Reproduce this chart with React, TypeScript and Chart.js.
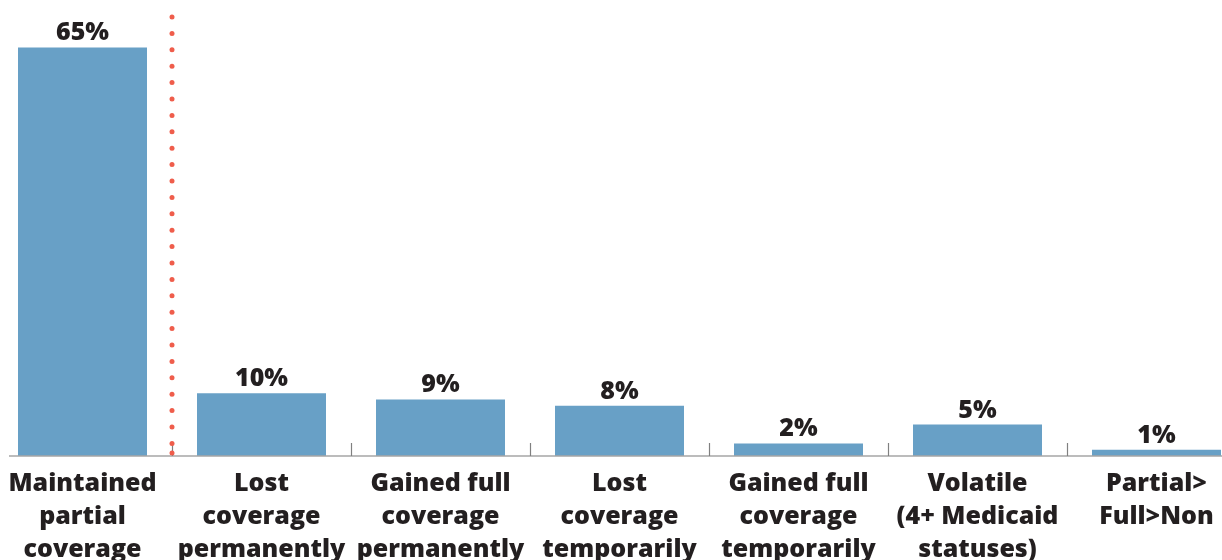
import React, { useEffect, useRef } from "react";
import { Chart, registerables } from "chart.js";

Chart.register(...registerables);

const categories: string[][] = [
  ["Maintained", "partial", "coverage"],
  ["Lost", "coverage", "permanently"],
  ["Gained full", "coverage", "permanently"],
  ["Lost", "coverage", "temporarily"],
  ["Gained full", "coverage", "temporarily"],
  ["Volatile", "(4+ Medicaid", "statuses)"],
  ["Partial>", "Full>Non"],
];
const values: number[] = [65, 10, 9, 8, 2, 5, 1];
const valueLabels: string[] = ["65%", "10%", "9%", "8%", "2%", "5%", "1%"];

const FONT = "'Open Sans', 'Noto Sans', sans-serif";
const TEXT = "#231f20";
const OFFSET_X = 7; // canvas starts 7px left of the page edge

const overlayPlugin = {
  id: "overlay",
  afterDatasetsDraw(chart: any) {
    const ctx = chart.ctx;
    const x = chart.scales.x;
    const area = chart.chartArea;
    const meta = chart.getDatasetMeta(0);
    ctx.save();
    // value labels
    ctx.fillStyle = TEXT;
    ctx.font = `800 25px ${FONT}`;
    ctx.textAlign = "center";
    ctx.textBaseline = "alphabetic";
    meta.data.forEach((bar: any, i: number) => {
      ctx.fillText(valueLabels[i], bar.x, bar.y - 7);
    });
    // axis line
    ctx.strokeStyle = "#a6a6a6";
    ctx.lineWidth = 1.6;
    ctx.beginPath();
    ctx.moveTo(9 + OFFSET_X, area.bottom);
    ctx.lineTo(chart.width, area.bottom);
    ctx.stroke();
    // tick marks between categories (inside)
    ctx.lineWidth = 1.2;
    ctx.strokeStyle = "#808080";
    for (let i = 0; i < values.length - 1; i++) {
      const bx = Math.round((x.getPixelForValue(i) + x.getPixelForValue(i + 1)) / 2) + 0.5;
      ctx.beginPath();
      ctx.moveTo(bx, area.bottom);
      ctx.lineTo(bx, area.bottom - 13);
      ctx.stroke();
    }
    // dotted red separator between first and second category
    const sx = (x.getPixelForValue(0) + x.getPixelForValue(1)) / 2;
    ctx.fillStyle = "#ef5d4b";
    const top = area.top + 1;
    const step = 16.4;
    for (let y = top; y <= area.bottom - 8; y += step) {
      ctx.beginPath();
      ctx.arc(sx, y, 2.5, 0, Math.PI * 2);
      ctx.fill();
    }
    ctx.beginPath();
    ctx.arc(sx, area.bottom - 3, 2.5, 0, Math.PI * 2);
    ctx.fill();
    ctx.restore();
  },
};

export default function App() {
  const ref = useRef<HTMLCanvasElement>(null);
  useEffect(() => {
    if (!ref.current) return;
    const chart = new Chart(ref.current, {
      type: "bar",
      data: {
        labels: categories,
        datasets: [
          {
            data: values,
            backgroundColor: "#68a0c6",
            borderWidth: 0,
            barPercentage: 129 / 179,
            categoryPercentage: 1,
          },
        ],
      },
      options: {
        responsive: false,
        animation: false,
        devicePixelRatio: 1,
        layout: { padding: { top: 16, left: 0, right: 0, bottom: 0 } },
        plugins: { legend: { display: false }, tooltip: { enabled: false } },
        scales: {
          x: {
            grid: { display: false, drawTicks: false },
            border: { display: false },
            ticks: {
              color: TEXT,
              padding: 11,
              autoSkip: false,
              maxRotation: 0,
              font: { family: FONT, weight: "800", size: 25, lineHeight: 1.32 },
            },
            afterFit(scale: any) {
              scale.height = 104;
            },
          },
          y: { display: false, min: 0, max: 70 },
        },
      },
      plugins: [overlayPlugin],
    });
    return () => chart.destroy();
  }, []);
  return (
    <div style={{ position: "fixed", left: -OFFSET_X, top: 0, width: 1253, height: 560, background: "#fff" }}>
      <canvas ref={ref} width={1253} height={560} />
    </div>
  );
}
